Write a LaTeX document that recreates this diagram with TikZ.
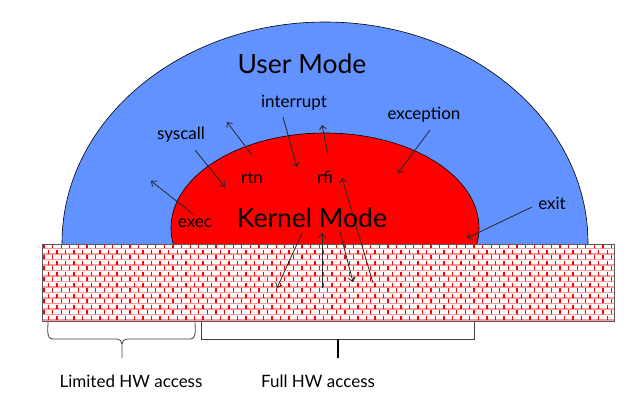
\documentclass[tikz,border=0pt]{standalone}
\usepackage{fontspec}
\setmainfont{Lato}
\usetikzlibrary{arrows.meta}
\definecolor{usrblue}{RGB}{98,146,255}
\definecolor{krnred}{RGB}{255,0,0}
\tikzset{
  arr/.style={-{Straight Barb[length=4pt,width=7pt]}, line width=0.8pt, black!85},
  lbl/.style={font=\fontsize{17}{17}\selectfont, anchor=base, inner sep=0pt},
  big/.style={font=\fontsize{26.5}{26.5}\selectfont, anchor=base, inner sep=0pt},
  brace/.style={line width=0.8pt, black!75}
}
\begin{document}
\begin{tikzpicture}[x=1pt,y=-1pt]
\useasboundingbox (0,0) rectangle (628,404);
% user mode half ellipse
\begin{scope}
\clip (0,0) rectangle (628,243.5);
\filldraw[fill=usrblue, draw=black, line width=0.6pt] (325,243) ellipse [x radius=263pt, y radius=221pt];
\filldraw[fill=krnred, draw=black, line width=0.6pt] (325,228) ellipse [x radius=154pt, y radius=95pt];
\end{scope}
% brick wall
\fill[white] (42,244) rectangle (614,321);
\begin{scope}
\clip (42,244) rectangle (614,321);
\foreach \i in {0,...,14}{
  \pgfmathsetmacro{\yy}{244+\i*5.5}
  \draw[red!40, line width=1.6pt] (42,\yy+4.6) -- (614,\yy+4.6);
  \pgfmathsetmacro{\off}{mod(\i,2)*4.3}
  \foreach \k in {0,...,67}{
    \draw[krnred, line width=1.3pt] ({44+\off+\k*8.6},\yy) -- ++(0,4);
  }
}
\end{scope}
\draw[black!65, line width=1pt] (42,244) rectangle (614,321);
% labels
\node[big] (um) at (302,73) {User Mode};
\node[big] (km) at (312,227) {Kernel Mode};
\node[lbl] (int) at (294,107) {interrupt};
\node[lbl] (sys) at (181,139) {syscall};
\node[lbl] (exc) at (424,119) {exception};
\node[lbl] (rtn) at (252,183) {rtn};
\node[lbl] (rfi) at (325,183) {rfi};
\node[lbl] (exec) at (195,227) {exec};
\node[lbl] (exit) at (552,209) {exit};
\node[lbl] (lim) at (131,387) {Limited HW access};
\node[lbl] (full) at (318,387) {Full HW access};
% arrow end points
\coordinate (a1s) at (252,155); \coordinate (a1e) at (227,122);
\coordinate (a2s) at (195,150); \coordinate (a2e) at (225,187);
\coordinate (a3s) at (193,214); \coordinate (a3e) at (151,181);
\coordinate (a4s) at (283,117); \coordinate (a4e) at (297,167);
\coordinate (a5s) at (328,155); \coordinate (a5e) at (322,125);
\coordinate (a6s) at (373,283); \coordinate (a6e) at (342,178);
\coordinate (a7s) at (340,232); \coordinate (a7e) at (353,282);
\coordinate (a8s) at (322,288); \coordinate (a8e) at (322,233);
\coordinate (a9s) at (302,233); \coordinate (a9e) at (277,288);
\coordinate (a10s) at (430,130); \coordinate (a10e) at (398,173);
\coordinate (a11s) at (532,207); \coordinate (a11e) at (467,238);
\foreach \n in {1,...,11}{\draw[arr] (a\n s) -- (a\n e);}
% braces
\draw[brace] (48,322) to[out=-90,in=180] (53,339) -- (117,339) to[out=0,in=90] (122,344) -- (122,358)
             (122,344) to[out=90,in=180] (127,339) -- (190,339) to[out=0,in=-90] (195,322);
\draw[brace] (201,322) -- (201,339) -- (474,339) -- (474,322);
\draw[black, line width=1.6pt] (338,339) -- (338,358);
\end{tikzpicture}
\end{document}
